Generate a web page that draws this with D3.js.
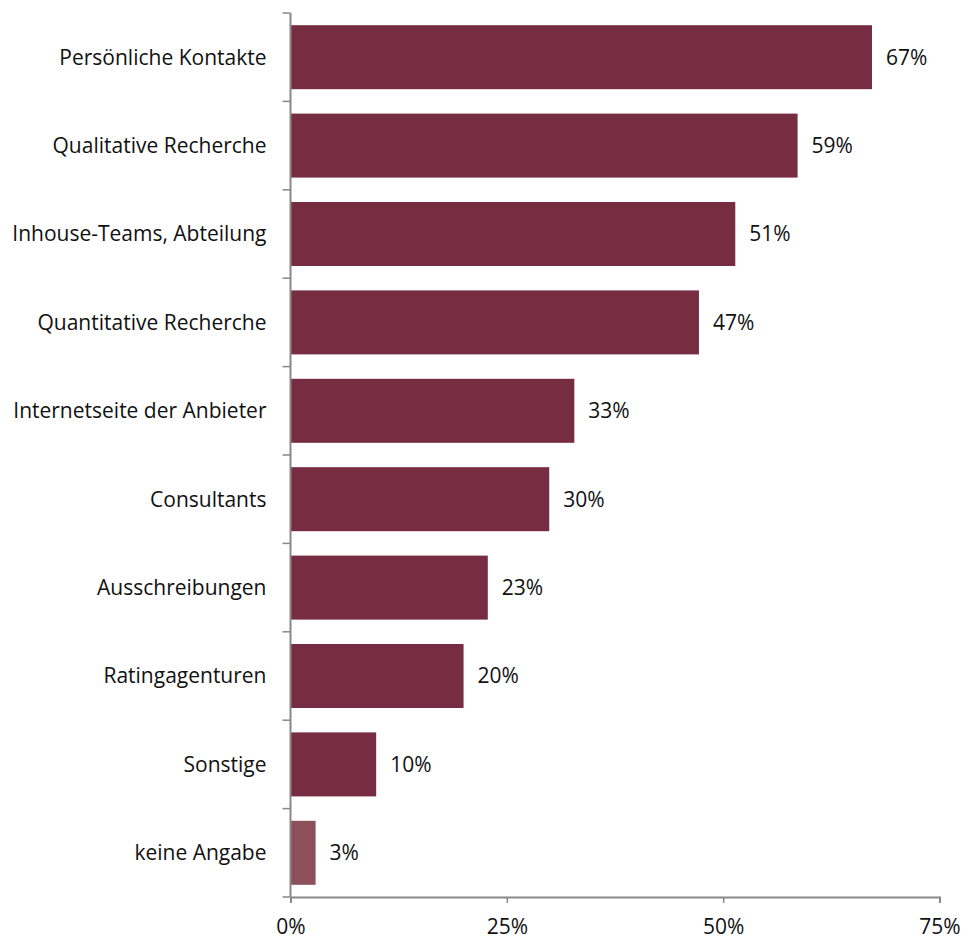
<!DOCTYPE html>
<html>
<head>
<meta charset="utf-8">
<script src="https://cdn.jsdelivr.net/npm/d3@7"></script>
<style>
  body { margin: 0; background: #fff; }
  svg text { font-family: "Open Sans", sans-serif; fill: #111; }
</style>
</head>
<body>
<div class="chart"></div>
<script>
const categories = ['Persönliche Kontakte', 'Qualitative Recherche', 'Inhouse-Teams, Abteilung',
  'Quantitative Recherche', 'Internetseite der Anbieter', 'Consultants', 'Ausschreibungen',
  'Ratingagenturen', 'Sonstige', 'keine Angabe'];
const values = [67.2, 58.6, 51.4, 47.2, 32.8, 29.9, 22.8, 20, 9.9, 2.9];
const valueLabels = ['67%', '59%', '51%', '47%', '33%', '30%', '23%', '20%', '10%', '3%'];
const xTicks = [0, 25, 50, 75];

const data = categories.map((c, i) => ({ label: c, value: values[i], text: valueLabels[i] }));

let margins = { top: 13, right: 28, bottom: 44, left: 290 },
  width = 967 - margins.left - margins.right,
  height = 941 - margins.top - margins.bottom,
  fontSize = '21px',
  x = d3.scaleLinear().domain([0, 75]).range([0, width]),
  y = d3.scaleBand().domain(categories).range([0, height]).paddingInner(0.276).paddingOuter(0.138),
  yTicks = d3.scaleBand().domain(categories).range([0, height]),
  svg = d3.select('.chart')
    .append('svg')
    .attr('width', 967)
    .attr('height', 941)
    .append('g')
    .attr('transform', 'translate(' + (margins.left + 0.5) + ',' + margins.top + ')');

// bars
svg.selectAll('.bar')
  .data(data)
  .enter()
  .append('rect')
  .attr('class', 'bar')
  .attr('x', 0)
  .attr('y', d => y(d.label))
  .attr('width', d => x(d.value))
  .attr('height', y.bandwidth())
  .style('fill', (d, i) => i === data.length - 1 ? '#8e4f5c' : '#772d41');

// value labels
svg.selectAll('.val')
  .data(data)
  .enter()
  .append('text')
  .attr('x', d => x(d.value) + 14)
  .attr('y', d => y(d.label) + y.bandwidth() / 2)
  .attr('dy', '0.35em')
  .style('font-size', fontSize)
  .text(d => d.text);

// category labels
svg.selectAll('.cat')
  .data(data)
  .enter()
  .append('text')
  .attr('x', -24)
  .attr('y', d => yTicks(d.label) + yTicks.bandwidth() / 2)
  .attr('dy', '0.35em')
  .attr('text-anchor', 'end')
  .style('font-size', fontSize)
  .text(d => d.label);

// y axis: line + ticks at band boundaries
const axisColor = '#888';
svg.append('line')
  .attr('x1', 0).attr('x2', 0)
  .attr('y1', 0).attr('y2', height)
  .attr('stroke', axisColor).attr('stroke-width', 2);
svg.selectAll('.ytick')
  .data(categories.concat(['_end']))
  .enter()
  .append('line')
  .attr('x1', -8).attr('x2', 0)
  .attr('y1', (d, i) => i * yTicks.step())
  .attr('y2', (d, i) => i * yTicks.step())
  .attr('stroke', axisColor).attr('stroke-width', 1.5);

// x axis
const xAxis = svg.append('g')
  .attr('transform', 'translate(0,' + height + ')')
  .call(d3.axisBottom(x).tickValues(xTicks).tickFormat(d => d + '%').tickSize(6).tickPadding(16));
xAxis.select('.domain').attr('stroke', axisColor).attr('stroke-width', 2);
xAxis.selectAll('.tick line').attr('stroke', axisColor).attr('stroke-width', 1.5);
xAxis.selectAll('.tick text')
  .style('font-size', fontSize)
  .style('font-family', '"Open Sans", sans-serif')
  .attr('fill', '#111');
</script>
</body>
</html>
